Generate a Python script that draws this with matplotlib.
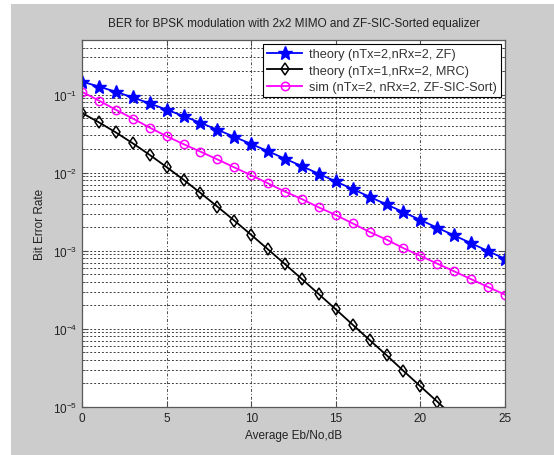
import numpy as np
import matplotlib
matplotlib.use('Agg')
import matplotlib.pyplot as plt
from matplotlib.patches import Rectangle
from matplotlib.ticker import LogLocator, FixedLocator

plt.rcParams['font.family'] = ['Liberation Sans', 'DejaVu Sans']
plt.rcParams['mathtext.fontset'] = 'custom'
plt.rcParams['mathtext.rm'] = 'Liberation Sans'
plt.rcParams['mathtext.default'] = 'regular'

# Eb/No points (dB)
ebno_db = list(range(0, 26))

# theory (nTx=2, nRx=2, ZF)
ber_zf = [0.1464, 0.1268, 0.1085, 0.0919, 0.0771, 0.0642, 0.0530, 0.0435,
          0.0355, 0.0288, 0.0233, 0.0188, 0.0151, 0.0121, 0.00966, 0.00772,
          0.00616, 0.00491, 0.00392, 0.00312, 0.00248, 0.00197, 0.00157,
          0.00125, 0.00099, 0.00079]

# theory (nTx=1, nRx=2, MRC)
ber_mrc = [0.0581, 0.0441, 0.0328, 0.0238, 0.0169, 0.0118, 0.00813, 0.00551,
           0.00368, 0.00244, 0.00160, 0.00104, 0.000674, 0.000434, 0.000278,
           0.000178, 0.000113, 7.2e-5, 4.6e-5, 2.9e-5, 1.84e-5, 1.17e-5,
           7.4e-6, 4.7e-6, 2.95e-6, 1.87e-6]

# sim (nTx=2, nRx=2, ZF-SIC-Sort)
ber_sic = [0.1085, 0.0838, 0.0639, 0.0494, 0.0378, 0.0293, 0.0232, 0.0186,
           0.0148, 0.0117, 0.00927, 0.00729, 0.00572, 0.00459, 0.00359,
           0.00287, 0.00224, 0.00174, 0.00139, 0.00108, 0.00086, 0.000685,
           0.000545, 0.000433, 0.000344, 0.000274]

labels = ['theory (nTx=2,nRx=2, ZF)',
          'theory (nTx=1,nRx=2, MRC)',
          'sim (nTx=2, nRx=2, ZF-SIC-Sort)']

W, H = 554, 456
fig = plt.figure(figsize=(W / 100, H / 100), dpi=100, facecolor='white')
fig.patches.append(Rectangle((11 / W, 0), 1 - 11 / W, (H - 5) / H,
                             transform=fig.transFigure, facecolor='#cccccc',
                             edgecolor='none', zorder=-10))

ax = fig.add_axes([82 / W, (H - 408) / H, (505 - 82) / W, (408 - 41) / H])
ax.set_facecolor('white')

ax.semilogy(ebno_db, ber_zf, 'b-*', lw=1.3, ms=10.5, label=labels[0])
ax.semilogy(ebno_db, ber_mrc, 'k-d', lw=1.3, ms=6, mfc='none', mew=1.1,
            label=labels[1])
ax.semilogy(ebno_db, ber_sic, '-o', color='magenta', lw=1.3, ms=6,
            mfc='none', mew=1.1, label=labels[2])

ax.set_xlim(0, 25)
ax.set_ylim(1e-5, 0.5)
ax.set_xticks([0, 5, 10, 15, 20, 25])
ax.yaxis.set_major_locator(FixedLocator([1e-5, 1e-4, 1e-3, 1e-2, 1e-1]))
ax.yaxis.set_minor_locator(LogLocator(base=10, subs=np.arange(2, 10), numticks=20))

# matlab style grid
ax.grid(True, which='major', axis='x', color='0.3', lw=0.7, ls=(0, (3, 2, 1, 2)))
ax.grid(True, which='both', axis='y', color='0.25', lw=0.7, ls=(0, (2, 2)))

ax.tick_params(which='both', direction='in', top=True, right=True,
               labelsize=8.5, colors='0.3', labelcolor='#222222')
ax.tick_params(which='major', length=4)
ax.tick_params(which='minor', length=2)
for s in ax.spines.values():
    s.set_color('0.35')
    s.set_linewidth(0.9)

ax.set_title('BER for BPSK modulation with 2x2 MIMO and ZF-SIC-Sorted equalizer',
             fontsize=8.5, color='#222222', pad=10)
ax.set_xlabel('Average Eb/No,dB', fontsize=8.5, color='#222222', labelpad=4)
ax.set_ylabel('Bit Error Rate', fontsize=8.5, color='#222222', labelpad=5)

leg = ax.legend(loc='upper right', fontsize=9.2, fancybox=False, framealpha=1,
                edgecolor='black', borderaxespad=0.35, handlelength=2.8,
                handletextpad=0.5, labelspacing=0.35, borderpad=0.3)
leg.get_frame().set_linewidth(0.8)
for t in leg.get_texts():
    t.set_color('#333333')

fig.savefig('out.png', dpi=100, facecolor=fig.get_facecolor())
